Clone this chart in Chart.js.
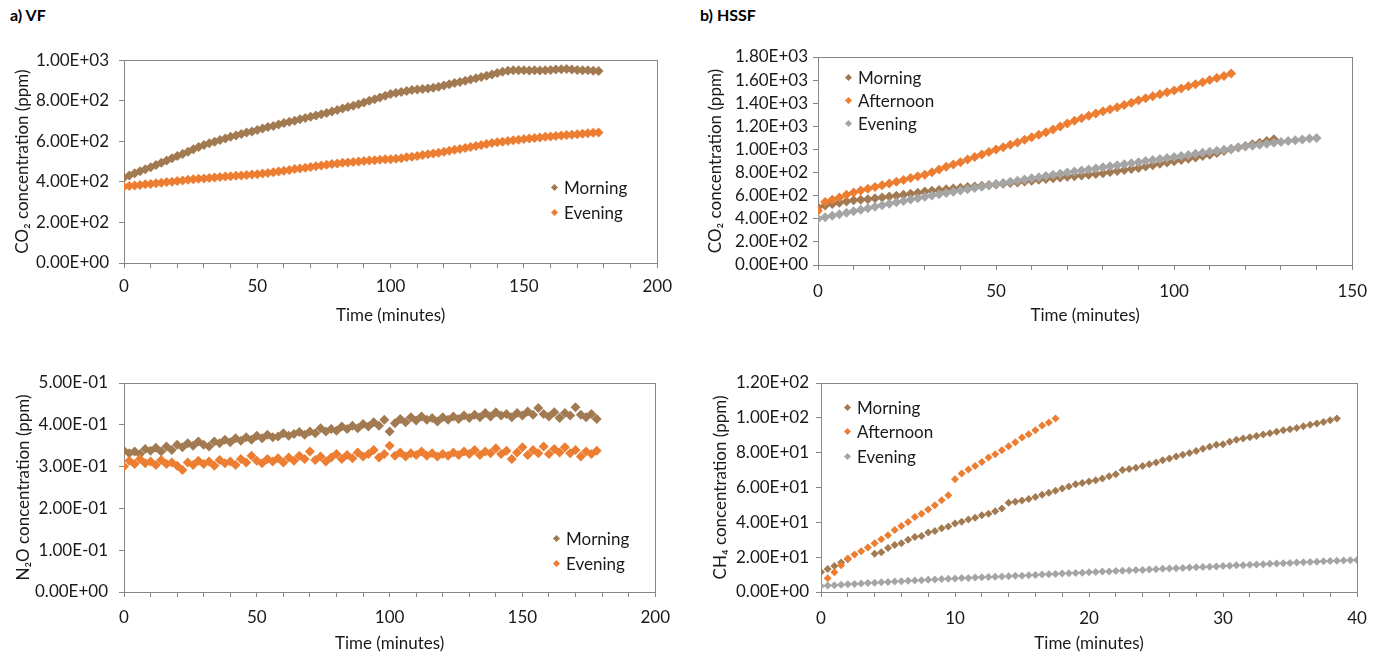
<!DOCTYPE html>
<html>
<head>
<meta charset="utf-8">
<script src="https://cdn.jsdelivr.net/npm/chart.js@4.4.0/dist/chart.umd.min.js"></script>
<style>
  body { margin: 0; background: #fff; width: 1378px; height: 656px; position: relative; overflow: hidden; font-family: Lato, "Open Sans", sans-serif; }
  .panel { position: absolute; }
  .tag { position: absolute; top: 5px; font-weight: bold; font-size: 16px; line-height: 20px; color: #000; }
  .lg { position: absolute; height: 20px; display: flex; align-items: center; font-size: 17px; color: #1a1a1a; white-space: nowrap; }
  .lg i { display: inline-block; width: 5px; height: 5px; transform: rotate(45deg); margin: 0 7px 0 0; }
</style>
</head>
<body>
<div class="tag" style="left:10px">a) VF</div>
<div class="tag" style="left:700px">b) HSSF</div>
<div class="panel" style="left:0;top:40px"><canvas id="vfCo2" width="680" height="290"></canvas></div>
<div class="panel" style="left:690px;top:40px"><canvas id="hssfCo2" width="688" height="290"></canvas></div>
<div class="panel" style="left:0;top:360px"><canvas id="vfN2o" width="680" height="296"></canvas></div>
<div class="panel" style="left:690px;top:360px"><canvas id="hssfCh4" width="688" height="296"></canvas></div>
<script>
// ---- data ----
// a) VF : sampled every 2 minutes
const vfTime = [0,2,4,6,8,10,12,14,16,18,20,22,24,26,28,30,32,34,36,38,40,42,44,46,48,50,52,54,56,58,
  60,62,64,66,68,70,72,74,76,78,80,82,84,86,88,90,92,94,96,98,100,102,104,106,108,110,112,114,116,118,
  120,122,124,126,128,130,132,134,136,138,140,142,144,146,148,150,152,154,156,158,160,162,164,166,168,170,172,174,176,178];

const vfCo2Morning = [422,432,443,453,462,472,483,494,505,516,
  527,538,549,561,572,582,590,598,606,614,
  622,629,636,643,649,656,663,670,676,683,
  690,696,702,709,715,721,727,734,740,747,
  755,762,769,776,783,791,800,808,816,825,
  833,838,843,848,853,856,858,860,864,869,
  875,881,887,893,899,905,911,917,923,930,
  937,943,948,950,951,950,949,950,949,951,
  952,954,955,956,954,952,951,950,948,947];
const vfCo2Evening = [377,380,382,385,388,390,393,396,399,401,
  404,407,410,413,415,417,419,421,424,426,
  428,430,432,434,436,438,441,444,447,451,
  455,459,463,466,470,473,477,481,485,488,
  491,494,496,498,501,503,505,507,509,511,
  512,514,517,521,524,528,532,536,540,544,
  549,553,558,562,567,572,577,582,587,592,
  595,598,601,605,608,611,614,616,619,622,
  624,626,629,631,633,635,637,640,642,644];

const vfN2oMorning = [.338,.332,.336,.330,.342,.338,.345,.336,.348,.340,
  .352,.346,.356,.350,.360,.352,.348,.360,.356,.364,
  .358,.368,.362,.370,.364,.374,.368,.376,.370,.372,
  .380,.374,.378,.383,.376,.384,.380,.392,.384,.390,
  .386,.396,.390,.398,.392,.402,.396,.406,.398,.412,
  .384,.404,.414,.406,.418,.410,.420,.412,.416,.408,
  .418,.412,.420,.414,.422,.416,.424,.418,.428,.420,
  .430,.422,.426,.418,.428,.422,.432,.424,.440,.426,
  .420,.430,.416,.428,.422,.442,.424,.418,.426,.414];
const vfN2oEvening = [.300,.314,.306,.318,.308,.312,.304,.316,.306,.310,
  .302,.292,.310,.304,.314,.306,.312,.302,.316,.308,
  .312,.304,.318,.310,.326,.314,.308,.318,.312,.320,
  .310,.322,.314,.326,.318,.336,.316,.324,.312,.322,
  .330,.318,.328,.320,.334,.324,.330,.340,.322,.330,
  .350,.326,.334,.324,.332,.328,.336,.326,.332,.324,
  .330,.326,.334,.328,.336,.330,.340,.328,.336,.332,
  .344,.330,.338,.318,.334,.346,.328,.340,.332,.348,
  .330,.342,.334,.346,.332,.340,.324,.336,.330,.338];

// b) HSSF CO2 : sampled every 2 minutes
const hssfTime = [0,2,4,6,8,10,12,14,16,18,20,22,24,26,28,30,32,34,36,38,40,42,44,46,48,50,52,54,56,58,
  60,62,64,66,68,70,72,74,76,78,80,82,84,86,88,90,92,94,96,98,100,102,104,106,108,110,112,114,116,118,
  120,122,124,126,128,130,132,134,136,138,140];
const hssfCo2Morning = [500,515,528,538,550,560,565,570,577,584,
  592,600,608,617,626,635,642,648,655,662,
  668,674,680,686,692,697,703,709,715,722,
  730,737,744,751,757,763,769,775,781,788,
  795,804,813,822,831,840,852,864,876,887,
  897,908,919,931,943,955,970,986,1002,1016,
  1030,1044,1058,1072,1088];
const hssfCo2Afternoon = [470,545,565,585,607,628,645,660,675,690,
  705,720,736,752,768,782,803,826,850,870,
  890,912,934,956,978,1000,1020,1040,1060,1083,
  1105,1127,1149,1172,1198,1225,1248,1271,1292,1311,
  1330,1348,1366,1384,1405,1425,1443,1461,1478,1494,
  1510,1528,1546,1564,1582,1600,1618,1636,1658];
const hssfCo2Evening = [400,413,426,439,452,465,478,491,504,517,
  530,542,554,566,578,590,601,612,623,634,
  645,656,667,678,689,700,710,720,730,740,
  750,760,770,780,790,800,809,818,827,836,
  845,854,863,872,881,890,899,908,917,926,
  935,944,953,962,971,980,989,998,1007,1016,
  1025,1033,1041,1049,1057,1065,1073,1080,1087,1094,
  1100];

// b) HSSF CH4 : sampled every 0.5 minute (null = no point visible)
const ch4Time = [0,0.5,1,1.5,2,2.5,3,3.5,4,4.5,5,5.5,6,6.5,7,7.5,8,8.5,9,9.5,
  10,10.5,11,11.5,12,12.5,13,13.5,14,14.5,15,15.5,16,16.5,17,17.5,18,18.5,19,19.5,
  20,20.5,21,21.5,22,22.5,23,23.5,24,24.5,25,25.5,26,26.5,27,27.5,28,28.5,29,29.5,
  30,30.5,31,31.5,32,32.5,33,33.5,34,34.5,35,35.5,36,36.5,37,37.5,38,38.5,39,39.5,40];
const ch4Morning = [11.5,13.2,15.0,17.0,18.8,null,null,null,22.0,22.8,
  25.2,27.0,28.0,30.0,31.6,32.2,34.2,35.0,36.6,37.6,
  39.4,40.4,41.6,42.6,44.0,45.0,46.4,48.0,51.2,51.8,
  52.6,53.4,54.6,55.8,57.0,58.2,59.4,60.6,61.8,62.6,
  63.4,64.2,65.2,66.4,67.6,70.0,70.6,71.4,72.4,73.4,
  74.4,75.6,76.6,77.8,78.8,79.8,81.0,82.2,83.4,84.6,
  84.8,86.2,87.4,88.2,88.8,89.6,90.4,91.2,92.0,92.8,
  93.4,94.2,95.2,96.0,96.8,97.6,98.6,99.6];
const ch4Afternoon = [null,7.9,11.3,15.3,19.2,21.5,23.4,25.5,28.0,30.3,
  32.6,35.6,37.9,40.2,43.1,45.0,47.3,49.8,52.7,55.6,
  64.8,68.0,70.3,72.4,74.7,77.2,79.1,81.4,83.7,86.0,
  88.7,90.6,92.9,95.6,97.3,99.6];
const ch4Evening = [3.5,3.7,3.9,4.2,4.4,4.6,4.9,5.1,5.3,5.6,
  5.8,6.0,6.2,6.4,6.6,6.8,7.0,7.2,7.4,7.6,
  7.8,8.0,8.1,8.3,8.5,8.6,8.8,8.9,9.1,9.3,
  9.4,9.6,9.8,10.0,10.2,10.4,10.6,10.7,10.9,11.1,
  11.3,11.5,11.7,11.8,12.0,12.2,12.4,12.6,12.7,12.9,
  13.1,13.3,13.5,13.6,13.8,14.0,14.2,14.4,14.5,14.7,
  14.9,15.1,15.3,15.4,15.6,15.8,16.0,16.2,16.3,16.5,
  16.7,16.9,17.1,17.2,17.4,17.6,17.8,18.0,18.1,18.3,
  18.4];

// ---- style ----
const FONT = 'Lato, "Open Sans", sans-serif';
const AXIS = '#868686';
const TEXT = '#1a1a1a';
const BROWN = '#A27A52';
const ORANGE = '#ED7D31';
const GRAY = '#A5A5A5';

// 1.00E+03 style labels
function sci(v) {
  const parts = v.toExponential(2).split('e');
  const e = Number(parts[1]);
  return parts[0] + 'E' + (e < 0 ? '-' : '+') + String(Math.abs(e)).padStart(2, '0');
}

// plot-area border
const frame = {
  id: 'frame',
  beforeDatasetsDraw(chart) {
    const a = chart.chartArea, ctx = chart.ctx;
    ctx.save();
    ctx.strokeStyle = AXIS;
    ctx.lineWidth = 1;
    ctx.strokeRect(Math.round(a.left) + 0.5, Math.round(a.top) + 0.5, Math.round(a.right - a.left), Math.round(a.bottom - a.top));
    ctx.restore();
  }
};

// one panel
function drawPanel(id, c) {
  const chart = new Chart(document.getElementById(id), {
    type: 'scatter',
    data: {
      datasets: c.series.map((s, i) => ({
        label: s.label,
        data: s.values.map((y, k) => ({ x: c.time[k], y: y })).filter(p => p.y !== null),
        backgroundColor: s.color,
        borderColor: s.color,
        borderWidth: 0,
        pointStyle: 'rectRot',
        pointRadius: c.radius,
        pointHoverRadius: c.radius,
        order: c.series.length - i
      }))
    },
    options: {
      responsive: false,
      animation: false,
      devicePixelRatio: 1,
      events: [],
      layout: { padding: { top: c.padTop, right: c.padRight, bottom: 0, left: 0 } },
      plugins: { legend: { display: false }, tooltip: { enabled: false } },
      scales: {
        x: {
          type: 'linear', min: 0, max: c.xMax,
          border: { color: AXIS, width: 1 },
          grid: { drawOnChartArea: false, tickLength: 5, color: AXIS },
          ticks: {
            stepSize: c.xStep, autoSkip: false, maxRotation: 0, padding: c.xTickPad,
            color: TEXT, font: { family: FONT, size: 17 },
            callback: v => (v % c.xLabel === 0 ? String(v) : '')
          },
          title: { display: true, text: 'Time (minutes)', color: TEXT, font: { family: FONT, size: 17 }, padding: { top: 0, bottom: c.xTitlePad } },
          afterFit: s => { s.height = c.xHeight; }
        },
        y: {
          type: 'linear', min: 0, max: c.yMax,
          border: { color: AXIS, width: 1 },
          grid: { drawOnChartArea: false, tickLength: 5, color: AXIS },
          ticks: { stepSize: c.yStep, autoSkip: false, padding: c.yTickPad, color: TEXT, font: { family: FONT, size: 17 }, callback: v => sci(v) },
          title: { display: true, text: c.yTitle, color: TEXT, font: { family: FONT, size: 17 }, padding: { top: c.yTitlePad, bottom: 0 } },
          afterFit: s => { s.width = c.yWidth; }
        }
      }
    },
    plugins: [frame]
  });

  // legend inside the plot
  chart.data.datasets.forEach((d, i) => {
    const row = document.createElement('div');
    row.className = 'lg';
    row.style.left = (c.legend.x - 4) + 'px';
    row.style.top = (c.legend.y + i * c.legend.gap - 10) + 'px';
    row.innerHTML = '<i style="background:' + d.backgroundColor + '"></i>' + d.label;
    document.body.appendChild(row);
  });
  return chart;
}

function drawAll() {
  drawPanel('vfCo2', {
    time: vfTime,
    series: [
      { label: 'Morning', values: vfCo2Morning, color: BROWN },
      { label: 'Evening', values: vfCo2Evening, color: ORANGE }
    ],
    radius: 5, xMax: 200, xStep: 10, xLabel: 50, yMax: 1000, yStep: 200,
    yTitle: 'CO\u2082 concentration (ppm)',
    padTop: 16, padRight: 18, yWidth: 124, xHeight: 67,
    xTickPad: 8, yTickPad: 10, xTitlePad: 4, yTitlePad: 12,
    legend: { x: 556, y: 187, gap: 25.5 }
  });

  drawPanel('hssfCo2', {
    time: hssfTime,
    series: [
      { label: 'Morning', values: hssfCo2Morning, color: BROWN },
      { label: 'Afternoon', values: hssfCo2Afternoon, color: ORANGE },
      { label: 'Evening', values: hssfCo2Evening, color: GRAY }
    ],
    radius: 5, xMax: 150, xStep: 10, xLabel: 50, yMax: 1800, yStep: 200,
    yTitle: 'CO\u2082 concentration (ppm)',
    padTop: 17, padRight: 22, yWidth: 128, xHeight: 65,
    xTickPad: 11, yTickPad: 5, xTitlePad: 4, yTitlePad: 15,
    legend: { x: 850, y: 77, gap: 23 }
  });

  drawPanel('vfN2o', {
    time: vfTime,
    series: [
      { label: 'Morning', values: vfN2oMorning, color: BROWN },
      { label: 'Evening', values: vfN2oEvening, color: ORANGE }
    ],
    radius: 5, xMax: 200, xStep: 10, xLabel: 50, yMax: 0.5, yStep: 0.1,
    yTitle: 'N\u2082O concentration (ppm)',
    padTop: 23, padRight: 18, yWidth: 124, xHeight: 64,
    xTickPad: 10, yTickPad: 11, xTitlePad: 2, yTitlePad: 13,
    legend: { x: 558, y: 538, gap: 25 }
  });

  drawPanel('hssfCh4', {
    time: ch4Time,
    series: [
      { label: 'Morning', values: ch4Morning, color: BROWN },
      { label: 'Afternoon', values: ch4Afternoon, color: ORANGE },
      { label: 'Evening', values: ch4Evening, color: GRAY }
    ],
    radius: 4, xMax: 40, xStep: 2, xLabel: 10, yMax: 120, yStep: 20,
    yTitle: 'CH\u2084 concentration (ppm)',
    padTop: 23, padRight: 21, yWidth: 131, xHeight: 64,
    xTickPad: 11, yTickPad: 7, xTitlePad: 2, yTitlePad: 20,
    legend: { x: 849, y: 407, gap: 24.7 }
  });
}

if (document.fonts && document.fonts.load) {
  Promise.all([document.fonts.load('17px Lato'), document.fonts.load('bold 16px Lato')]).then(drawAll, drawAll);
} else {
  drawAll();
}
</script>
</body>
</html>
